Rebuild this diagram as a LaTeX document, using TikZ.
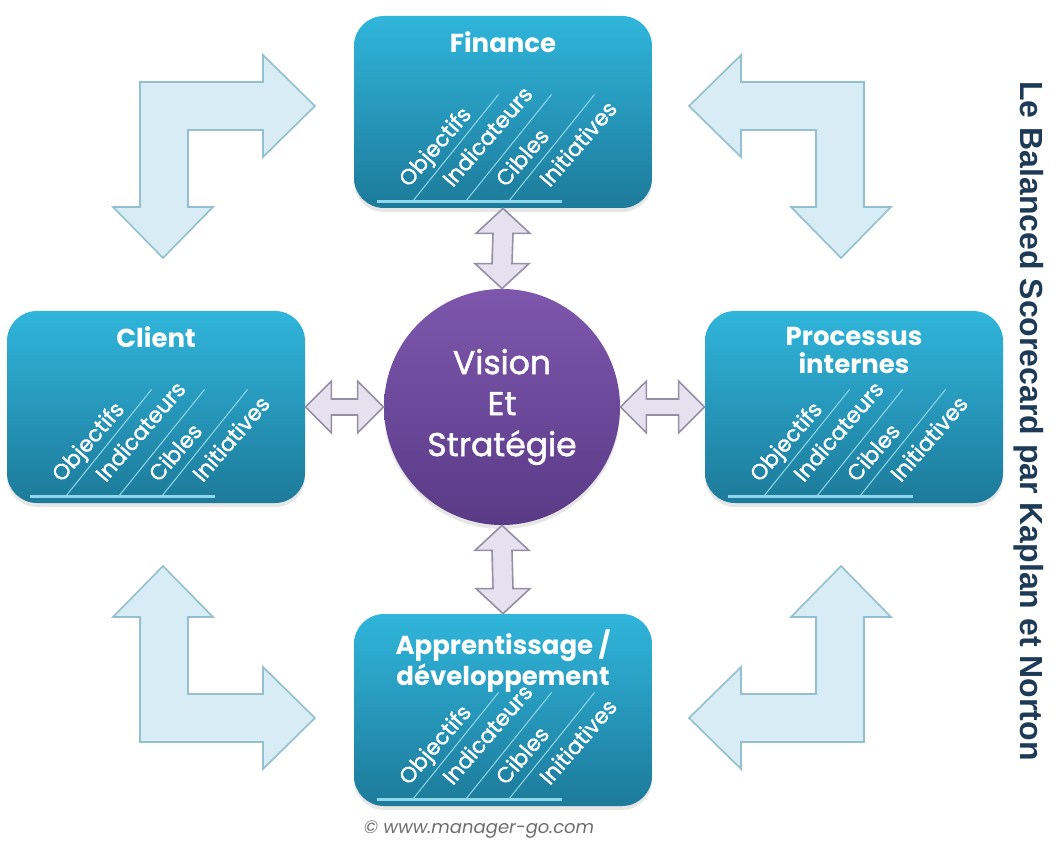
\documentclass[tikz,border=0pt]{standalone}
\usepackage{fontspec}
\setmainfont{Poppins}
\newfontfamily\medfont[FakeBold=1.4]{Poppins}
\newfontfamily\sidefont{Liberation Sans}
\usepackage{xcolor}
\usetikzlibrary{positioning, calc, shadows}

\definecolor{boxtop}{HTML}{30B5DB}
\definecolor{boxbot}{HTML}{1D7A9A}
\definecolor{hubtop}{HTML}{7E57AC}
\definecolor{hubbot}{HTML}{5A3A87}
\definecolor{lfill}{HTML}{D7ECF4}
\definecolor{ldraw}{HTML}{93BFCE}
\definecolor{dfill}{HTML}{E5E1EF}
\definecolor{ddraw}{HTML}{958FA6}
\definecolor{kpirule}{HTML}{8FD8EC}
\definecolor{navy}{HTML}{1D3A57}
\definecolor{webgray}{HTML}{6E6E6E}

% columns and labels at the foot of a perspective box
\newcommand{\measures}[1]{%
  \draw[footline] ($(#1.south west)+(23,-7)$) -- ($(#1.south west)+(208,-7)$);
  \foreach \dx in {59,112,155}
    \draw[column] ($(#1.south west)+(\dx,-7)$) -- ++(86,-107);
  \foreach \dx/\word in {55/Objectifs, 99/Indicateurs, 152/Cibles, 196/Initiatives}
    \node[item] at ($(#1.south west)+(\dx,-20)$) {\word};
}

% two-headed block arrows between a box and the hub
\newcommand{\vlink}[2]{%
  \draw[link] (#1) -- ++(27,25) -- ++(-17,0) -- ($(#2)+(10,-25)$) -- ++(17,0)
    -- (#2) -- ++(-27,-25) -- ++(17,0) -- ($(#1)+(-10,25)$) -- ++(-17,0) -- cycle;
}
\newcommand{\hlink}[2]{%
  \draw[link] (#1) -- ++(26,-26) -- ++(0,18) -- ($(#2)+(-26,-8)$) -- ++(0,-18)
    -- (#2) -- ++(-26,26) -- ++(0,-18) -- ($(#1)+(26,8)$) -- ++(0,18) -- cycle;
}

\begin{document}
\begin{tikzpicture}[x=0.5pt, y=-0.5pt,
    box/.style={rectangle, rounded corners=15pt, minimum width=149pt, minimum height=96pt,
      top color=boxtop, bottom color=boxbot,
      drop shadow={shadow xshift=0pt, shadow yshift=-2pt, opacity=0.2}},
    hub/.style={circle, minimum size=118pt, inner sep=0pt, top color=hubtop, bottom color=hubbot,
      text=white, align=center, font=\medfont\fontsize{16.5}{20.5}\selectfont,
      drop shadow={shadow xshift=0pt, shadow yshift=-2pt, opacity=0.2}},
    title/.style={inner sep=0pt, text=white, align=center, font=\fontsize{13}{14}\selectfont\bfseries},
    item/.style={anchor=base west, rotate=49, inner sep=0pt, text=white, font=\medfont\fontsize{11}{12}\selectfont},
    column/.style={draw=kpirule, line width=0.5pt},
    footline/.style={draw=kpirule, line width=1.3pt},
    link/.style={fill=dfill, draw=ddraw, line width=0.8pt},
    lshape/.style={fill=lfill, draw=ldraw, line width=0.8pt}
]
\useasboundingbox (0,0) rectangle (1060,850);

% corner arrows, one shape mirrored about the centre
\foreach \sx/\sy in {1/1, -1/1, 1/-1, -1/-1}
  \draw[lshape, shift={(502,412)}, xscale=\sx, yscale=\sy]
    (-362,-330) -- (-239,-330) -- (-239,-357) -- (-187,-306) -- (-239,-255) -- (-239,-282)
    -- (-314,-282) -- (-314,-205) -- (-289,-205) -- (-339,-154) -- (-389,-205) -- (-362,-205) -- cycle;

\node[box] (fin) at (503,112) {};
\node[box] (cli) at (156,407) {};
\node[box] (proc) at (854,407) {};
\node[box] (appr) at (503,710) {};
\node[hub] (vis) at (502,407) {Vision\\Et\\Stratégie};

\node[title, below=8pt of fin.north] (fint) {Finance};
\node[title, below=8pt of cli.north] (clit) {Client};
\node[title, below=8pt of proc.north] (proct) {Processus\\internes};
\node[title, below=8pt of appr.north] (apprt) {Apprentissage /\\développement};

\foreach \b in {fin, cli, proc, appr}
  \measures{\b};

\vlink{fin.south}{vis.north}
\vlink{vis.south}{appr.north}
\hlink{cli.east}{vis.west}
\hlink{vis.east}{proc.west}

\node[rotate=-90, text=navy, font=\sidefont\bfseries\fontsize{16}{18}\selectfont] (side) at (1029,421)
  {Le Balanced Scorecard par Kaplan et Norton};
\node[text=webgray, font=\itshape\fontsize{9}{11}\selectfont] (web) at (479,830) {© www.manager-go.com};
\end{tikzpicture}
\end{document}
